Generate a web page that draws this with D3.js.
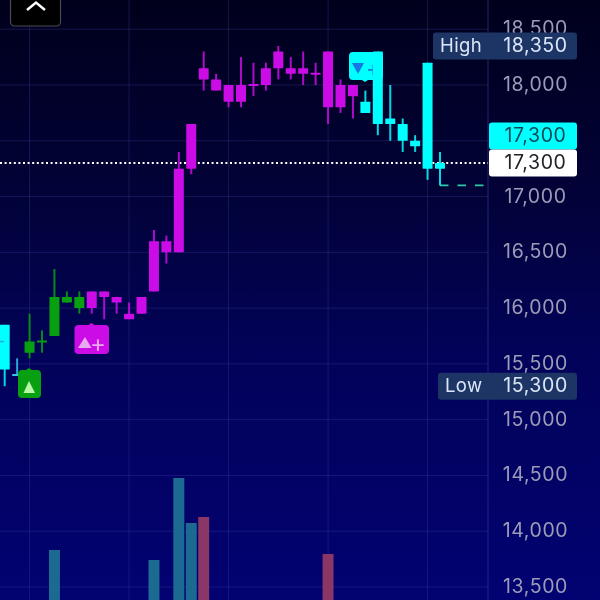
<!DOCTYPE html>
<html><head><meta charset="utf-8">
<script src="https://cdn.jsdelivr.net/npm/d3@7"></script>
<style>html,body{margin:0;padding:0;background:#000018;overflow:hidden}svg{display:block;filter:blur(0.35px)}text{font-family:Inter,"Open Sans",sans-serif}</style>
</head><body><svg id="c" width="600" height="600"></svg>
<script>
const tickValues=[18500,18000,17500,17000,16500,16000,15500,15000,14500,14000,13500];
const hiddenTickLabels=[17500];
const gridIndexes=[2,10,18,26,34];
const kinds=["c","b","g","g","g","g","g","m","m","m","m","m","m","m","m","m","m","m","m","m","m","m","m","m","m","m","m","m","m","c","c","c","c","c","c","c"];
const bodyTop=[15850,15400,15700,15700,16100,16100,16100,16150,16150,16100,15950,16100,16600,16600,17250,17650,18150,18050,18000,18000,18000,18150,18300,18150,18150,18100,18300,18000,18000,17850,18300,17700,17650,17500,18200,17300];
const bodyBottom=[15450,15400,15600,15700,15750,16050,16000,16000,16100,16050,15900,15950,16150,16500,16500,17250,18050,17950,17850,17850,18000,18000,18150,18100,18100,18100,17800,17800,17900,17750,17650,17650,17500,17450,17250,17250];
const highs=[15850,15550,15950,15800,16350,16150,16150,16150,16150,16100,16050,16100,16700,16650,17400,17650,18300,18100,18000,18250,18200,18200,18350,18250,18300,18200,18300,18050,18000,17950,18300,18000,17700,17550,18200,17400];
const lows=[15300,15400,15550,15600,15750,16050,15950,15950,15900,15950,15900,15950,16150,16400,16500,17200,17950,17950,17800,17800,17900,17950,18050,18050,18000,18000,17650,17750,17700,17750,17550,17500,17400,17400,17150,17100];
const volumeIndexes=[4,12,14,15,16,26];
const volumeValues=[50,40,122,77,83,46];
const volumeKinds=["up","up","up","up","down","down"];
const lastPrice=17300, dashPrice=17100, highPrice=18350, lowPrice=15300, offTick=15700;

const W=600,H=600,axisX=488;
const y=d3.scaleLinear().domain([18000,13500]).range([85,587]);
const x=d3.scaleLinear().domain([0,35]).range([4.7,440]);
const yVol=d3.scaleLinear().domain([0,140]).range([600,460]);
const colors={c:"#00ffff",b:"#30c4f0",g:"#08a010",m:"#cc0ce6"};
const fmt=d3.format(",");
const svg=d3.select("#c");
const defs=svg.append("defs");
const grad=defs.append("linearGradient").attr("id","bg").attr("x1",0).attr("x2",0).attr("y1",0).attr("y2",1);
[[0,"#00001c"],[0.3,"#020236"],[0.6,"#02025a"],[1,"#020272"]].forEach(s=>grad.append("stop").attr("offset",s[0]).attr("stop-color",s[1]));
svg.append("rect").attr("width",W).attr("height",H).attr("fill","url(#bg)");

const gridC="#4a4aa8",gridO=0.3;
svg.append("g").selectAll("line").data(tickValues).join("line")
 .attr("x1",0).attr("x2",axisX).attr("y1",d=>y(d)).attr("y2",d=>y(d))
 .attr("stroke",gridC).attr("stroke-opacity",gridO);
svg.append("g").selectAll("line").data(gridIndexes).join("line")
 .attr("x1",d=>x(d)).attr("x2",d=>x(d)).attr("y1",0).attr("y2",H)
 .attr("stroke",gridC).attr("stroke-opacity",gridO);
svg.append("line").attr("x1",axisX).attr("x2",axisX).attr("y1",0).attr("y2",H).attr("stroke",gridC).attr("stroke-opacity",0.5);

// volume
svg.append("g").selectAll("rect").data(volumeValues).join("rect")
 .attr("x",(d,i)=>x(volumeIndexes[i])-5.5).attr("width",11)
 .attr("y",d=>yVol(d)).attr("height",d=>600-yVol(d))
 .attr("fill",(d,i)=>volumeKinds[i]==="up"?"#1c6a92":"#8a3666");

// last price dotted
svg.append("line").attr("x1",0).attr("x2",axisX).attr("y1",y(lastPrice)).attr("y2",y(lastPrice))
 .attr("stroke","#fff").attr("stroke-width",2).attr("stroke-dasharray","2 2.6");
// dashed forecast
svg.append("line").attr("x1",x(35)).attr("x2",484).attr("y1",y(dashPrice)).attr("y2",y(dashPrice))
 .attr("stroke","#30c8a8").attr("stroke-width",1.8).attr("stroke-dasharray","8.5 9");

function badge(cx0,cx1,top,bottom,fill,notchX,notchUp){
 const g=svg.append("g");
 g.append("rect").attr("x",cx0).attr("y",top).attr("width",cx1-cx0).attr("height",bottom-top).attr("rx",4).attr("fill",fill);
 const n=notchUp?top:bottom, s=notchUp?-2:2;
 g.append("path").attr("d",`M${notchX-3},${n}L${notchX},${n+s}L${notchX+3},${n}Z`).attr("fill",fill);
 return g;
}
const mCyan=badge(349,383,52,80,"#00ffff",365,false);
mCyan.append("path").attr("d","M352,63L364,63L358,74Z").attr("fill","#1878e4");
mCyan.append("text").attr("x",366).attr("y",76).attr("font-size",22).attr("fill","#1878e4").text("+");

// candles
const cg=svg.append("g").selectAll("g").data(kinds).join("g");
cg.append("line").attr("x1",(d,i)=>x(i)).attr("x2",(d,i)=>x(i))
 .attr("y1",(d,i)=>y(highs[i])).attr("y2",(d,i)=>y(lows[i]))
 .attr("stroke",d=>colors[d]).attr("stroke-width",2).attr("stroke-opacity",0.85);
cg.append("rect").attr("x",(d,i)=>x(i)-5).attr("width",10)
 .attr("y",(d,i)=>bodyTop[i]===bodyBottom[i]?y(bodyTop[i])-1:y(bodyTop[i]))
 .attr("height",(d,i)=>bodyTop[i]===bodyBottom[i]?2:y(bodyBottom[i])-y(bodyTop[i]))
 .attr("rx",0.6).attr("fill",d=>colors[d]);
// small dash left inside first candle
svg.append("line").attr("x1",0).attr("x2",4).attr("y1",y(offTick)).attr("y2",y(offTick)).attr("stroke","#2fa8d8").attr("stroke-width",1.5);

const mGreen=badge(18,41,370,398,"#08a010",29,true);
mGreen.append("path").attr("d","M29,381L35,393L23.5,393Z").attr("fill","#b8f8a8");
const mMag=badge(74.5,109,325,354,"#cc0ce6",91.5,true);
mMag.append("path").attr("d","M85,337L91.5,348L78,348Z").attr("fill","#eaa8f4");
mMag.append("text").attr("x",98).attr("y",352).attr("text-anchor","middle").attr("font-size",24).attr("fill","#eaa8f4").text("+");

// axis tick labels (one is hidden behind the cyan tag in the source)
const numSize=19.5,numSpace=0.6;
svg.append("g").selectAll("text").data(tickValues.filter(t=>!hiddenTickLabels.includes(t))).join("text")
 .attr("x",535.5).attr("y",d=>y(d)+6).attr("text-anchor","middle")
 .attr("font-size",numSize).attr("letter-spacing",numSpace).attr("fill","#9c9cb8").text(d=>fmt(d));

function tag(x0,x1,cy,h,fill,label,lx,val,vc,lc){
 svg.append("rect").attr("x",x0).attr("y",cy-h/2).attr("width",x1-x0).attr("height",h).attr("rx",3).attr("fill",fill);
 if(label) svg.append("text").attr("x",lx).attr("y",cy+6).attr("font-size",18.5).attr("letter-spacing",0.4).attr("fill",lc).text(label);
 svg.append("text").attr("x",535.5).attr("y",cy+6).attr("text-anchor","middle").attr("font-size",numSize).attr("letter-spacing",numSpace).attr("fill",vc).text(fmt(val));
}
tag(433,577,y(highPrice),27,"#1c3564","High",440,highPrice,"#dce6f8","#dce6f8");
tag(438,577,y(lowPrice),27,"#1c3564","Low",445,lowPrice,"#dce6f8","#dce6f8");
tag(489,577,136,27,"#00ffff",null,0,lastPrice,"#0c4a58");
tag(489,577,y(lastPrice),27,"#ffffff",null,0,lastPrice,"#222228");

svg.append("rect").attr("x",10.5).attr("y",-8).attr("width",50).attr("height",34).attr("rx",4).attr("fill","#000").attr("stroke","#4a4a54").attr("stroke-width",1.2);
svg.append("path").attr("d","M27,10L36,2.5L45,10").attr("fill","none").attr("stroke","#fff").attr("stroke-width",2.4);
</script></body></html>
